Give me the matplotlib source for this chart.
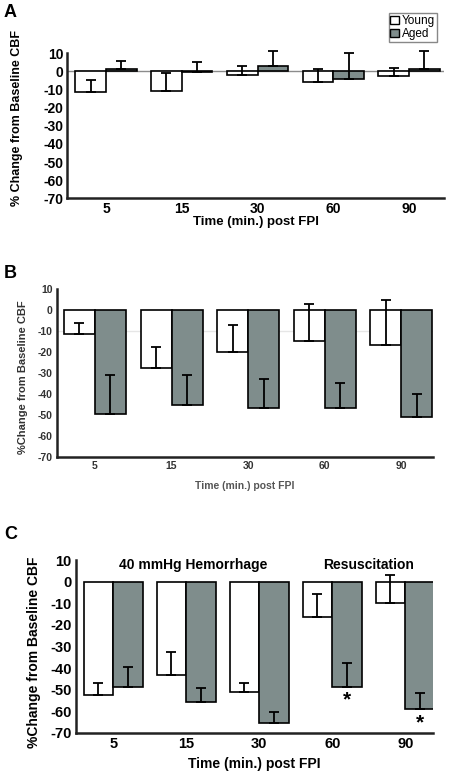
import matplotlib
matplotlib.use("Agg")
import matplotlib.pyplot as plt
import numpy as np
from matplotlib.patches import Patch

plt.rcParams['font.family'] = ['Liberation Sans', 'DejaVu Sans']
plt.rcParams['font.weight'] = 'bold'

categories = ["5", "15", "30", "60", "90"]

# Panel A
a_young = [-11.1, -10.6, -1.9, -5.6, -2.5]
a_young_err = [6.4, 10.0, 4.9, 6.8, 4.3]
a_aged = [1.2, -0.5, 3.2, -4.3, 1.2]
a_aged_err = [4.8, 5.7, 8.1, 14.3, 10.1]

# Panel B
b_young = [-11.4, -27.5, -19.8, -14.7, -16.5]
b_young_err = [5.1, 10.0, 12.9, 17.5, 21.4]
b_aged = [-49.7, -45.5, -46.6, -46.6, -51.2]
b_aged_err = [18.7, 14.5, 13.5, 11.9, 11.1]

# Panel C
c_young = [-52.6, -43.4, -51.1, -16.5, -9.9]
c_young_err = [5.7, 10.7, 4.2, 10.8, 13.1]
c_aged = [-48.5, -55.7, -65.4, -48.5, -59.0]
c_aged_err = [9.0, 6.5, 4.9, 10.8, 7.5]

yticks = [10, 0, -10, -20, -30, -40, -50, -60, -70]
aged_color = '#7f8d8c'

W, H = 450, 774
fig = plt.figure(figsize=(W / 100, H / 100), dpi=100)


def add_ax(left, right, top, bottom):
    return fig.add_axes([left / W, 1 - bottom / H, (right - left) / W, (bottom - top) / H])


def draw_panel(ax, young, yerr, aged, aerr, xlim, tick_fs, tick_color='black', width=0.405):
    x = np.arange(len(categories))
    ax.bar(x - width / 2, young, width, color='white', edgecolor='black', linewidth=1.2, zorder=2)
    ax.bar(x + width / 2, aged, width, color=aged_color, edgecolor='black', linewidth=1.2, zorder=2)
    for xs, vals, errs in [(x - width / 2, young, yerr), (x + width / 2, aged, aerr)]:
        cont = ax.errorbar(xs, vals, yerr=[np.zeros(len(vals)), errs], fmt='none',
                           ecolor='black', elinewidth=1.3, capsize=3.5, capthick=1.3, zorder=3)
        for child in cont.get_children():
            child.set_clip_on(False)
    ax.set_ylim(-70, 10)
    ax.set_xlim(*xlim)
    ax.set_yticks(yticks)
    ax.set_yticklabels([str(t) for t in yticks], fontsize=tick_fs, fontweight='bold', color=tick_color)
    ax.set_xticks(x)
    ax.set_xticklabels(categories, fontsize=tick_fs, fontweight='bold', color=tick_color)
    ax.tick_params(length=0, pad=3)
    for s in ['top', 'right']:
        ax.spines[s].set_visible(False)
    for s in ['left', 'bottom']:
        ax.spines[s].set_linewidth(1.8)
        ax.spines[s].set_color('#222222')
    ax.set_facecolor('none')


# ---- Panel A ----
axA = add_ax(67.3, 444, 53.3, 198.3)
draw_panel(axA, a_young, a_young_err, a_aged, a_aged_err, (-0.51, 4.46), 10)
axA.axhline(0, color='#8c8c8c', linewidth=1.0, zorder=1)
axA.set_ylabel('% Change from Baseline CBF', fontsize=9, fontweight='bold')
axA.yaxis.set_label_coords((23 - 67.3) / (444 - 67.3), (198.3 - 118) / 145)
axA.set_xlabel('Time (min.) post FPI', fontsize=9.5, fontweight='bold', labelpad=0)
leg = fig.legend(handles=[Patch(facecolor='white', edgecolor='black', label='Young'),
                          Patch(facecolor=aged_color, edgecolor='black', label='Aged')],
                 loc='upper right', bbox_to_anchor=(437 / W, 1 - 13 / H),
                 fontsize=8.5, handlelength=0.7, handleheight=0.7, handletextpad=0.3,
                 borderpad=0.15, labelspacing=0.1, fancybox=False, edgecolor='#888888',
                 framealpha=1, borderaxespad=0)
for t in leg.get_texts():
    t.set_fontweight('normal')

# ---- Panel B ----
axB = add_ax(56.7, 433.3, 289.3, 456.7)
draw_panel(axB, b_young, b_young_err, b_aged, b_aged_err, (-0.5, 4.42), 7.5, tick_color='#333333')
axB.axhline(-10, color='#e6e6e6', linewidth=1.0, zorder=1)
axB.set_ylabel('%Change from Baseline CBF', fontsize=8, fontweight='bold', color='#333333')
axB.yaxis.set_label_coords((28 - 56.7) / (433.3 - 56.7), (456.7 - 377) / (456.7 - 289.3))
axB.set_xlabel('Time (min.) post FPI', fontsize=7.5, fontweight='bold', color='#555555', labelpad=7)

# ---- Panel C ----
axC = add_ax(76, 433, 560, 733)
draw_panel(axC, c_young, c_young_err, c_aged, c_aged_err, (-0.51, 4.38), 10.5)
axC.set_ylabel('%Change from Baseline CBF', fontsize=10, fontweight='bold')
axC.yaxis.set_label_coords((41 - 76) / (433 - 76), (733 - 652) / 173)
axC.set_xlabel('Time (min.) post FPI', fontsize=10, fontweight='bold', labelpad=4)
axC.text(1.1, 7.5, '40 mmHg Hemorrhage', ha='center', va='center', fontsize=10, fontweight='bold')
axC.text(3.5, 7.5, 'Resuscitation', ha='center', va='center', fontsize=10, fontweight='bold')
w = 0.405
for i in [3, 4]:
    axC.text(i + w / 2, c_aged[i] - 2, '*', ha='center', va='top', fontsize=15, fontweight='bold')

# Panel letters
for lbl, y in [('A', 4), ('B', 265), ('C', 526)]:
    fig.text(4 / W, 1 - y / H, lbl, ha='left', va='top', fontsize=13, fontweight='bold')

fig.savefig('out.png', dpi=100)
